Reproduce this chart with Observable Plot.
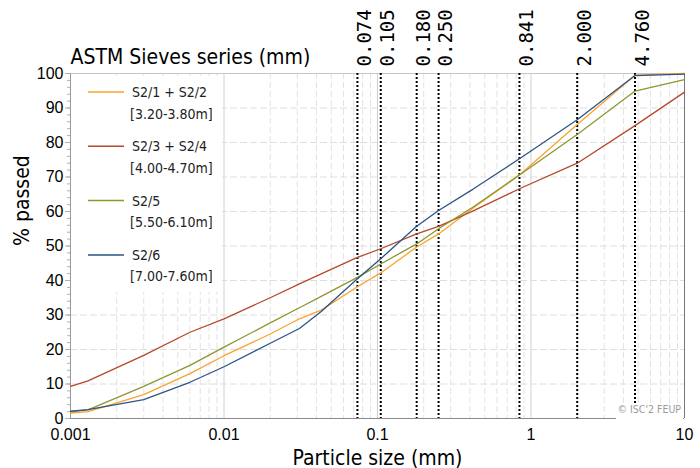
<!DOCTYPE html>
<html>
<head>
<meta charset="utf-8">
<script src="https://cdn.jsdelivr.net/npm/d3@7"></script>
<script src="https://cdn.jsdelivr.net/npm/@observablehq/plot@0.6"></script>
<style>
  body { margin: 0; background: #fff; }
  svg { display: block; }
</style>
</head>
<body>
<div id="chart"></div>
<script>
// Grain size distribution (sedimentation + sieving), four depth intervals.
const particleSizeMm = [0.001, 0.0013, 0.003, 0.006, 0.01, 0.02, 0.031, 0.043, 0.074, 0.105, 0.18, 0.25, 0.42, 0.841, 2.0, 4.76, 10];

const seriesNames = ["S2/1 + S2/2", "S2/3 + S2/4", "S2/5", "S2/6"];
const seriesDepths = ["[3.20-3.80m]", "[4.00-4.70m]", "[5.50-6.10m]", "[7.00-7.60m]"];
const seriesColors = ["#f9a32b", "#b4492b", "#8d962f", "#2b5585"];

const passedS2_1_2 = [1.6, 2.0, 6.9, 13.0, 18.2, 24.5, 28.9, 31.4, 38.2, 42.2, 49.7, 53.5, 61.0, 70.6, 85.2, 99.5, 100];
const passedS2_3_4 = [9.3, 10.9, 18.3, 25.0, 28.9, 35.0, 39.0, 41.9, 46.7, 49.2, 53.5, 55.7, 60.2, 66.6, 74.0, 84.9, 94.6];
const passedS2_5   = [2.0, 2.5, 9.3, 15.4, 20.7, 27.7, 32.1, 35.4, 40.9, 44.8, 50.6, 55.0, 61.3, 70.6, 82.3, 94.9, 98.2];
const passedS2_6   = [2.1, 2.6, 5.5, 10.5, 15.0, 21.8, 26.1, 31.0, 40.5, 46.3, 55.7, 60.3, 66.5, 75.3, 86.6, 99.4, 99.8];

// ASTM sieve openings marked on the chart
const sieveSizes = [0.074, 0.105, 0.180, 0.250, 0.841, 2.000, 4.760];
const sieveLabels = ["0.074", "0.105", "0.180", "0.250", "0.841", "2.000", "4.760"];

// Axis ticks
const xDecades = [0.001, 0.01, 0.1, 1, 10];
const xTickLabels = ["0.001", "0.01", "0.1", "1", "10"];
const yTicks = [0, 10, 20, 30, 40, 50, 60, 70, 80, 90, 100];

const seriesValues = [passedS2_1_2, passedS2_3_4, passedS2_5, passedS2_6];
const rows = seriesNames.flatMap((name, i) =>
  particleSizeMm.map((size, j) => ({series: name, size, passed: seriesValues[i][j]}))
);

const minorX = xDecades.slice(0, -1).flatMap(d => [2, 3, 4, 5, 6, 7, 8, 9].map(k => d * k));
const minorY = d3.range(0, 101, 2);
const condensed = "DejaVu Sans Condensed, DejaVu Sans, sans-serif";

// Legend panel drawn as a custom mark (white box over the grid)
function legendMark() {
  const g = d3.create("svg:g")
    .attr("font-family", condensed)
    .attr("font-size", 14)
    .attr("text-anchor", "start")
    .style("text-anchor", "start");
  g.append("rect")
    .attr("x", 71).attr("y", 76).attr("width", 151).attr("height", 216)
    .attr("fill", "#ffffff").style("fill", "#ffffff").attr("stroke", "none");
  seriesNames.forEach((name, i) => {
    const y0 = 92 + i * 54.3;
    g.append("line")
      .attr("x1", 88).attr("x2", 124).attr("y1", y0).attr("y2", y0)
      .attr("stroke", seriesColors[i]).attr("stroke-width", 1.5);
    g.append("text").attr("x", 132).attr("y", y0 + 5).attr("fill", "#222").text(name);
    g.append("text").attr("x", 130).attr("y", y0 + 26.5).attr("fill", "#222").text(seriesDepths[i]);
  });
  return g.node();
}

// Copyright note in the lower-right corner
function noteMark() {
  const g = d3.create("svg:g");
  g.append("rect")
    .attr("x", 616).attr("y", 403).attr("width", 67).attr("height", 19)
    .attr("fill", "#ffffff").style("fill", "#ffffff");
  g.append("text")
    .attr("x", 681).attr("y", 413)
    .attr("text-anchor", "end").style("text-anchor", "end")
    .attr("font-family", condensed).attr("font-size", 10.5)
    .attr("fill", "#9a9a9a").text("© ISC'2 FEUP");
  return g.node();
}

const chart = Plot.plot({
  width: 700,
  height: 468,
  marginTop: 73,
  marginRight: 16,
  marginBottom: 50,
  marginLeft: 70,
  style: {background: "white", fontFamily: "Liberation Sans, Arial, sans-serif", overflow: "visible"},
  x: {type: "log", domain: [0.001, 10]},
  y: {domain: [0, 100]},
  color: {domain: seriesNames, range: seriesColors},
  marks: [
    // grid
    Plot.ruleX(minorX, {stroke: "#e2e2e2", strokeDasharray: "6,3"}),
    Plot.ruleX(xDecades.slice(1, -1), {stroke: "#d0d0d0"}),
    Plot.ruleY(yTicks.slice(1, -1), {stroke: "#dedede", strokeDasharray: "7,3"}),
    legendMark,
    // frame
    Plot.ruleY([100], {stroke: "#c6c6c6"}),
    Plot.ruleX([10], {stroke: "#777"}),
    Plot.ruleY([0], {stroke: "#8a8a8a"}),
    Plot.ruleX([0.001], {stroke: "#9a9a9a"}),
    // axes
    Plot.axisY(minorY, {tickSize: 3, tickFormat: () => "", stroke: "#b0b0b0", label: null}),
    Plot.axisY(yTicks, {tickSize: 5, tickPadding: 2, fontSize: 16, stroke: "#b0b0b0", label: null}),
    Plot.axisX(xDecades, {tickSize: 0, tickPadding: 10, fontSize: 16, label: null,
      tickFormat: d => xTickLabels[xDecades.indexOf(d)]}),
    // sieve openings
    Plot.ruleX(sieveSizes, {stroke: "black", strokeWidth: 2, strokeDasharray: "2,2"}),
    Plot.text(sieveSizes, {x: d => d, frameAnchor: "top", text: (d, i) => sieveLabels[i],
      rotate: -90, textAnchor: "start", dy: -7, fontSize: 19, fontFamily: "DejaVu Sans Mono, monospace"}),
    // curves
    Plot.line(rows, {x: "size", y: "passed", z: "series", stroke: "series", strokeWidth: 1.3}),
    noteMark,
    // titles
    Plot.text(["ASTM Sieves series (mm)"], {frameAnchor: "top-left", textAnchor: "start",
      lineAnchor: "bottom", dx: 0, dy: -10, fontSize: 21, fontFamily: condensed}),
    Plot.text(["Particle size (mm)"], {frameAnchor: "bottom", lineAnchor: "bottom",
      dy: 46, fontSize: 21, fontFamily: condensed}),
    Plot.text(["% passed"], {frameAnchor: "left", rotate: -90, dx: -48,
      fontSize: 21, fontFamily: condensed})
  ]
});

document.getElementById("chart").appendChild(chart);
</script>
</body>
</html>
